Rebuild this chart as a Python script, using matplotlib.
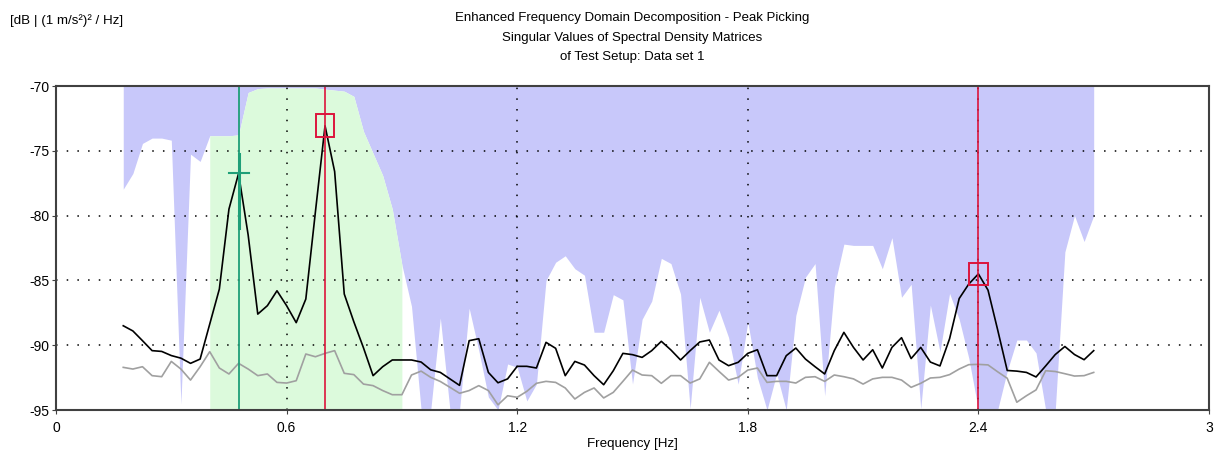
import numpy as np
import matplotlib
matplotlib.use("Agg")
import matplotlib.pyplot as plt
from matplotlib.patches import Rectangle

plt.rcParams['font.family'] = ['Liberation Sans', 'DejaVu Sans']
plt.rcParams['axes.unicode_minus'] = False

# frequency lines of the spectral density estimate [Hz]
freq_start = 0.175
freq_step = 0.025
n_lines = 102

# first singular value [dB]
sv1 = [
    -88.5, -88.9, -89.65, -90.42, -90.48, -90.8, -91.0, -91.4, -91.07, -88.37,
    -85.67, -79.5, -76.75, -81.5, -87.6, -86.95, -85.8, -86.95, -88.26, -86.44,
    -79.7, -73.07, -76.6, -86.05, -88.2, -90.2, -92.35, -91.66, -91.14, -91.14,
    -91.14, -91.3, -91.9, -92.1, -92.6, -93.1, -89.65, -89.5, -92.1, -92.9,
    -92.6, -91.63, -91.63, -91.76, -89.78, -90.24, -92.35, -91.25, -91.53, -92.35,
    -93.05, -91.97, -90.63, -90.73, -90.94, -90.42, -89.7, -90.37, -91.14, -90.42,
    -89.75, -89.6, -91.14, -91.58, -91.32, -90.63, -90.35, -92.35, -92.35, -90.81,
    -90.22, -91.07, -91.66, -92.22, -90.42, -89.01, -90.17, -91.14, -90.35, -91.76,
    -90.17, -89.42, -91.03, -90.17, -91.3, -91.6, -89.5, -86.4, -85.28, -84.5,
    -85.75, -88.8, -91.95, -92.0, -92.1, -92.45, -91.6, -90.72, -90.1, -90.72,
    -91.12, -90.42,
]

# second singular value [dB]
sv2 = [
    -91.71, -91.84, -91.66, -92.35, -92.43, -91.25, -91.84, -92.69, -91.66, -90.5,
    -91.76, -92.22, -91.4, -91.84, -92.35, -92.22, -92.87, -92.92, -92.74, -90.68,
    -90.89, -90.63, -90.42, -92.17, -92.27, -93.0, -93.12, -93.5, -93.82, -93.82,
    -92.3, -92.0, -92.48, -92.8, -93.25, -93.71, -93.5, -93.12, -93.5, -94.6,
    -93.9, -94.02, -93.56, -92.94, -92.79, -92.87, -93.3, -94.15, -93.64, -93.3,
    -94.07, -93.64, -92.79, -91.92, -92.3, -92.35, -92.94, -92.35, -92.35, -92.92,
    -92.6, -91.32, -92.02, -92.69, -92.48, -91.92, -91.76, -92.87, -92.79, -92.79,
    -92.92, -92.48, -92.43, -92.79, -92.3, -92.43, -92.6, -93.0, -92.6, -92.48,
    -92.48, -92.69, -93.25, -92.94, -92.53, -92.48, -92.27, -91.84, -91.5, -91.48,
    -91.52, -92.05, -92.55, -94.4, -93.9, -93.45, -91.97, -92.03, -92.2, -92.38,
    -92.35, -92.1,
]

# lower edge of the shaded band [dB]
band_edge = [
    -77.96, -76.75, -74.43, -74.02, -74.02, -74.18, -94.54, -75.26, -75.82, -73.84,
    -73.84, -73.84, -73.77, -70.5, -70.2, -70.15, -70.15, -70.15, -70.15, -70.15,
    -70.15, -70.24, -70.32, -70.4, -70.8, -73.5, -75.2, -76.9, -79.5, -83.8,
    -87.0, -95.0, -95.0, -87.9, -95.0, -95.0, -87.15, -90.4, -94.0, -95.0,
    -91.45, -91.7, -94.3, -93.0, -85.0, -83.6, -83.1, -84.1, -84.6, -89.0,
    -89.0, -86.1, -86.5, -93.0, -88.0, -86.6, -83.3, -83.7, -86.05, -94.9,
    -86.3, -89.0, -87.3, -89.4, -93.0, -88.2, -92.5, -95.0, -92.2, -95.0,
    -87.7, -84.75, -83.7, -93.9, -85.5, -82.2, -82.3, -82.3, -82.3, -84.1,
    -81.7, -86.3, -85.3, -94.9, -86.9, -90.5, -86.0, -88.0, -91.0, -95.0,
    -95.0, -95.0, -92.0, -89.6, -89.6, -90.6, -95.0, -95.0, -82.8, -80.0,
    -82.0, -80.0,
]

# SDOF bell around the selected mode (indices into the lines above)
bell_first = 9
bell_last = 29

cursor_freq = 0.475
picked_freqs = [0.70, 2.40]

freq = np.round(freq_start + freq_step * np.arange(n_lines), 4)
sv1 = np.array(sv1)
sv2 = np.array(sv2)
band_edge = np.array(band_edge)

ymin, ymax = -95, -70

fig = plt.figure(figsize=(12.16, 4.53), dpi=100)
ax = fig.add_axes([56 / 1216, 1 - 410 / 453, 1153 / 1216, 324 / 453])

ax.fill_between(freq, band_edge, ymax, color='#c8c8fa', linewidth=0, zorder=1)
bell = slice(bell_first, bell_last + 1)
ax.fill_between(freq[bell], ymin, band_edge[bell], color='#dcfadc', linewidth=0, zorder=1.1)

ax.plot(freq, sv2, color='#a0a0a0', lw=1.2, zorder=2)
ax.plot(freq, sv1, color='black', lw=1.2, zorder=2.1)

# cursor on the first mode
cursor_val = sv1[np.argmin(np.abs(freq - cursor_freq))]
ax.axvline(cursor_freq, color='#1f9f78', lw=1.3, zorder=2.5)
ax.plot([cursor_freq - 0.026, cursor_freq + 0.026], [cursor_val, cursor_val],
        color='#1f9f78', lw=1.5, zorder=2.6)
ax.plot([cursor_freq, cursor_freq], [cursor_val + 1.5, cursor_val - 4.2],
        color='#1f9f78', lw=2.2, zorder=2.6)

# picked peaks
for fp in picked_freqs:
    val = sv1[np.argmin(np.abs(freq - fp))]
    ax.axvline(fp, color='#dc143c', lw=1.2, zorder=2.5)
    ax.add_patch(Rectangle((fp - 0.0245, val - 0.88), 0.049, 1.76, fill=False,
                           edgecolor='#dc143c', lw=1.4, zorder=3))

ax.set_xlim(0, 3)
ax.set_ylim(ymin, ymax)
ax.set_xticks([0, 0.6, 1.2, 1.8, 2.4, 3])
ax.set_xticklabels(['0', '0.6', '1.2', '1.8', '2.4', '3'])
ax.set_yticks([-70, -75, -80, -85, -90, -95])
ax.set_yticklabels(['-70', '-75', '-80', '-85', '-90', '-95'])
ax.tick_params(axis='both', labelsize=10, length=3, width=0.8, color='#404040')
ax.tick_params(axis='y', pad=1.5)
ax.tick_params(axis='x', pad=5)

ax.set_axisbelow('line')
ax.grid(True, color='black', lw=1.1, linestyle=(0, (1, 6)), zorder=1.5)
for s in ax.spines.values():
    s.set_color('#404040')
    s.set_linewidth(1.5)
    s.set_zorder(4)

ax.set_xlabel('Frequency [Hz]', fontsize=9.6, labelpad=2)

cx = (56 + 1209) / 2 / 1216
fig.text(cx, 1 - 18 / 453, 'Enhanced Frequency Domain Decomposition - Peak Picking',
         ha='center', va='center', fontsize=9.5)
fig.text(cx, 1 - 38 / 453, 'Singular Values of Spectral Density Matrices',
         ha='center', va='center', fontsize=9.5)
fig.text(cx, 1 - 57 / 453, 'of Test Setup: Data set 1',
         ha='center', va='center', fontsize=9.5)
fig.text(10 / 1216, 1 - 21 / 453, '[dB | (1 m/s²)² / Hz]', ha='left', va='center', fontsize=9.6)

fig.savefig('out.png', dpi=100)
